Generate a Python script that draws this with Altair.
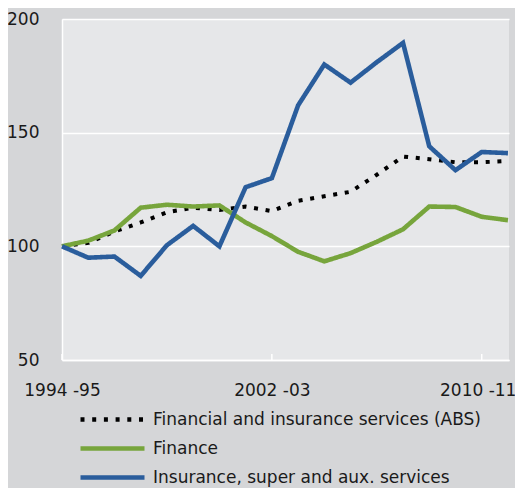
import altair as alt
import pandas as pd

periods = ["1994-95", "1995-96", "1996-97", "1997-98", "1998-99", "1999-00",
           "2000-01", "2001-02", "2002-03", "2003-04", "2004-05", "2005-06",
           "2006-07", "2007-08", "2008-09", "2009-10", "2010-11", "2011-12"]
abs_values = [100, 101.5, 106.5, 110.5, 115, 117, 116, 117.5, 115.5, 120,
              122, 124, 131.5, 139.5, 138.3, 137, 137, 137.5]
finance = [100, 102.5, 107, 117, 118.3, 117.5, 118, 110.5, 104.5, 97.6,
           93.4, 97, 102, 107.5, 117.5, 117.3, 113, 111.5]
insurance = [100, 95, 95.5, 87, 100.5, 109, 100, 126, 130, 162,
             180, 172, 181, 189.5, 144, 133.5, 141.5, 141]
series_names = ["Financial and insurance services (ABS)", "Finance",
                "Insurance, super and aux. services"]
series_colors = ["#000000", "#77a53c", "#2a5d9c"]
series_dashes = [[4, 7.7], [1, 0], [1, 0]]
tick_years = [1994, 2002, 2010]
y_ticks = [50, 100, 150, 200]

rows = []
for name, vals in zip(series_names, [abs_values, finance, insurance]):
    for p, v in zip(periods, vals):
        rows.append({"period": p, "year": int(p[:4]), "series": name, "value": v})
df = pd.DataFrame(rows)
ticks_df = pd.DataFrame({"year": tick_years})

FONT = "DejaVu Sans"
TXT = "#1a1a1a"

x_enc = alt.X("year:Q",
              scale=alt.Scale(domain=[1994, 2011.04], nice=False, zero=False),
              axis=alt.Axis(values=tick_years, title=None,
                            labelExpr="datum.value + ' -' + substring(toString(datum.value + 1), 2, 4)",
                            grid=False, ticks=False, labelPadding=22,
                            labelFontSize=17, labelFont=FONT, labelColor=TXT,
                            labelOverlap=False, labelBound=False, labelFlush=False,
                            labelOffset={"condition": {"test": "datum.value == 2010", "value": -4}, "value": 0},
                            domainColor="white", domainWidth=1.5))
y_enc = alt.Y("value:Q",
              scale=alt.Scale(domain=[50, 200], nice=False, zero=False),
              axis=alt.Axis(values=y_ticks, title=None, ticks=False,
                            labelPadding=23, labelFontSize=17, labelFont=FONT,
                            labelColor=TXT, gridColor="white", gridWidth=1.5,
                            labelFlush=False,
                            domainColor="white", domainWidth=1.5))

legend_props = dict(orient="none", legendX=16, legendY=386,
                    direction="vertical", title=None,
                    symbolType="stroke", symbolSize=4096,
                    symbolStrokeWidth=4.5, clipHeight=29,
                    rowPadding=0, labelFontSize=17,
                    labelFont=FONT, labelColor=TXT,
                    labelOffset=6, padding=0, labelLimit=0)

color_enc = alt.Color("series:N",
                      scale=alt.Scale(domain=series_names, range=series_colors),
                      legend=alt.Legend(**legend_props))
dash_enc = alt.StrokeDash("series:N",
                          scale=alt.Scale(domain=series_names, range=series_dashes),
                          legend=alt.Legend(**legend_props))

layers = []
for name, w in zip(series_names, [4, 4.6, 4.6]):
    layers.append(
        alt.Chart(df).transform_filter(alt.datum.series == name)
        .mark_line(strokeWidth=w, strokeJoin="miter")
        .encode(x=x_enc, y=y_enc, color=color_enc, strokeDash=dash_enc,
                order="year:Q")
    )

tick_rules = alt.Chart(ticks_df).mark_rule(color="white", strokeWidth=1.5).encode(
    x=alt.X("year:Q"), y=alt.value(335), y2=alt.value(341))

chart = alt.layer(*layers, tick_rules).properties(
    width=447, height=341,
    padding={"left": 54, "top": 11, "right": 6, "bottom": 128},
    autosize=alt.AutoSizeParams(type="none"),
    background="#d5d6d8",
).configure_view(fill="#e6e7e9", stroke=None)

chart.save("out.html", embed_options={"renderer": "svg", "actions": False})
